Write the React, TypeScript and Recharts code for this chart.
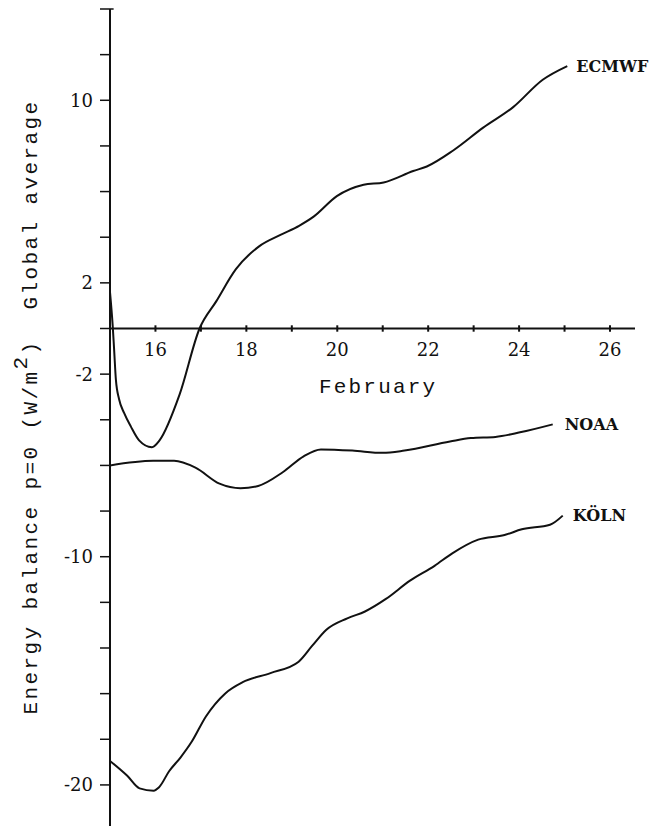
import React from 'react';
import { LineChart, Line, XAxis, YAxis, ReferenceLine, ReferenceDot } from 'recharts';

// February day / energy balance (W/m2)
const ecmwfDays = [15, 15.06, 15.09, 15.13, 15.2, 15.31, 15.46, 15.64, 15.92, 16.09, 16.53, 16.97, 17.34, 17.77, 18.28, 18.75, 19.16, 19.48, 19.99, 20.58, 21.02, 21.67, 21.97, 22.55, 23.21, 23.87, 24.52, 25.06];
const ecmwfValues = [1.6, 0.1, -0.9, -2.25, -3.1, -3.7, -4.3, -4.9, -5.2, -4.9, -2.9, 0, 1.2, 2.6, 3.6, 4.1, 4.5, 4.9, 5.8, 6.3, 6.4, 6.9, 7.1, 7.8, 8.8, 9.7, 10.9, 11.5];

const noaaDays = [15, 15.95, 16.41, 16.88, 17.41, 17.87, 18.26, 18.8, 19.26, 19.64, 20.33, 21.0, 21.48, 22.48, 22.94, 23.48, 24.02, 24.74];
const noaaValues = [-6.0, -5.8, -5.8, -6.1, -6.8, -7.0, -6.9, -6.3, -5.6, -5.3, -5.35, -5.45, -5.35, -4.95, -4.8, -4.75, -4.55, -4.2];

const kolnDays = [15, 15.38, 15.65, 15.96, 16.08, 16.3, 16.55, 16.8, 17.11, 17.53, 17.92, 18.53, 19.15, 19.45, 19.76, 20.22, 20.61, 21.07, 21.6, 22.14, 22.53, 23.1, 23.68, 24.06, 24.68, 24.96];
const kolnValues = [-18.95, -19.6, -20.15, -20.25, -20.1, -19.4, -18.8, -18.1, -17.0, -16.0, -15.5, -15.1, -14.6, -13.9, -13.2, -12.7, -12.4, -11.85, -11.05, -10.4, -9.85, -9.25, -9.05, -8.8, -8.6, -8.2];

const dayTicks = [16, 17, 18, 19, 20, 21, 22, 23, 24, 25, 26];
const dayLabels = [16, 18, 20, 22, 24, 26];
const yTicks = [-20, -18, -16, -14, -12, -10, -8, -6, -4, -2, 0, 2, 4, 6, 8, 10, 12, 14];
const yLabels = [10, 2, -2, -10, -20];

const toPoints = (days: number[], values: number[]) => days.map((d, i) => ({ d, v: values[i] }));

const ink = '#111';
const mono = 'Liberation Mono, monospace';
const serif = 'DejaVu Serif, serif';

const YTitle = () => (
  <text
    transform="translate(37, 407) rotate(-90)"
    textAnchor="middle"
    fontFamily={mono}
    fontSize={21}
    fill={ink}
    style={{ letterSpacing: 2.4 }}
  >
    Energy balance p=0 (W/m<tspan dy={-10}>2</tspan>
    <tspan dy={10}>){'\u00a0\u00a0'}Global average</tspan>
  </text>
);

const series = [
  { name: 'ECMWF', data: toPoints(ecmwfDays, ecmwfValues), gap: 9 },
  { name: 'NOAA', data: toPoints(noaaDays, noaaValues), gap: 12 },
  { name: 'KÖLN', data: toPoints(kolnDays, kolnValues), gap: 10 },
];

export default function App() {
  return (
    <div style={{ position: 'absolute', left: 0, top: 0, background: '#fff' }}>
      <LineChart width={649} height={826} margin={{ top: 9, right: 14, bottom: 0, left: 0 }}>
        <XAxis type="number" dataKey="d" domain={[15, 26.55]} hide allowDataOverflow />
        <YAxis
          type="number"
          domain={[-21.8, 14]}
          ticks={yTicks}
          interval={0}
          allowDataOverflow
          width={110}
          tickSize={10}
          tickMargin={7}
          tickFormatter={(v: number) => (yLabels.includes(v) ? String(v) : '')}
          axisLine={{ stroke: ink, strokeWidth: 2 }}
          tickLine={{ stroke: ink, strokeWidth: 1.5 }}
          tick={{ fill: ink, fontFamily: serif, fontSize: 18 }}
          label={<YTitle />}
        />

        {/* x axis drawn through zero */}
        <ReferenceLine y={0} stroke={ink} strokeWidth={2} />
        {dayTicks.map((d) => (
          <ReferenceLine
            key={'t' + d}
            segment={[{ x: d, y: 0.14 }, { x: d, y: -0.14 }]}
            stroke={ink}
            strokeWidth={2}
          />
        ))}
        <ReferenceLine
          segment={[{ x: 15, y: 14 }, { x: 15.08, y: 14 }]}
          stroke={ink}
          strokeWidth={1.5}
          ifOverflow="visible"
        />
        {dayLabels.map((d) => (
          <ReferenceDot
            key={'l' + d}
            x={d}
            y={0}
            r={0}
            fill="none"
            stroke="none"
            label={{ value: String(d), position: 'bottom', offset: 15, fill: ink, fontFamily: serif, fontSize: 18 }}
          />
        ))}
        <ReferenceDot
          x={20.9}
          y={0}
          r={0}
          fill="none"
          stroke="none"
          label={{ value: 'February', position: 'bottom', offset: 50, fill: ink, fontFamily: mono, fontSize: 21, style: { letterSpacing: 2.2 } }}
        />

        {series.map((s) => (
          <Line
            key={s.name}
            data={s.data}
            dataKey="v"
            type="monotone"
            stroke={ink}
            strokeWidth={2}
            dot={false}
            isAnimationActive={false}
          />
        ))}
        {series.map((s) => {
          const last = s.data[s.data.length - 1];
          return (
            <ReferenceDot
              key={'n' + s.name}
              x={last.d}
              y={last.v}
              r={0}
              fill="none"
              stroke="none"
              label={{ value: s.name, position: 'right', offset: s.gap, fill: ink, fontFamily: serif, fontWeight: 'bold', fontSize: 16 }}
            />
          );
        })}
      </LineChart>
    </div>
  );
}
